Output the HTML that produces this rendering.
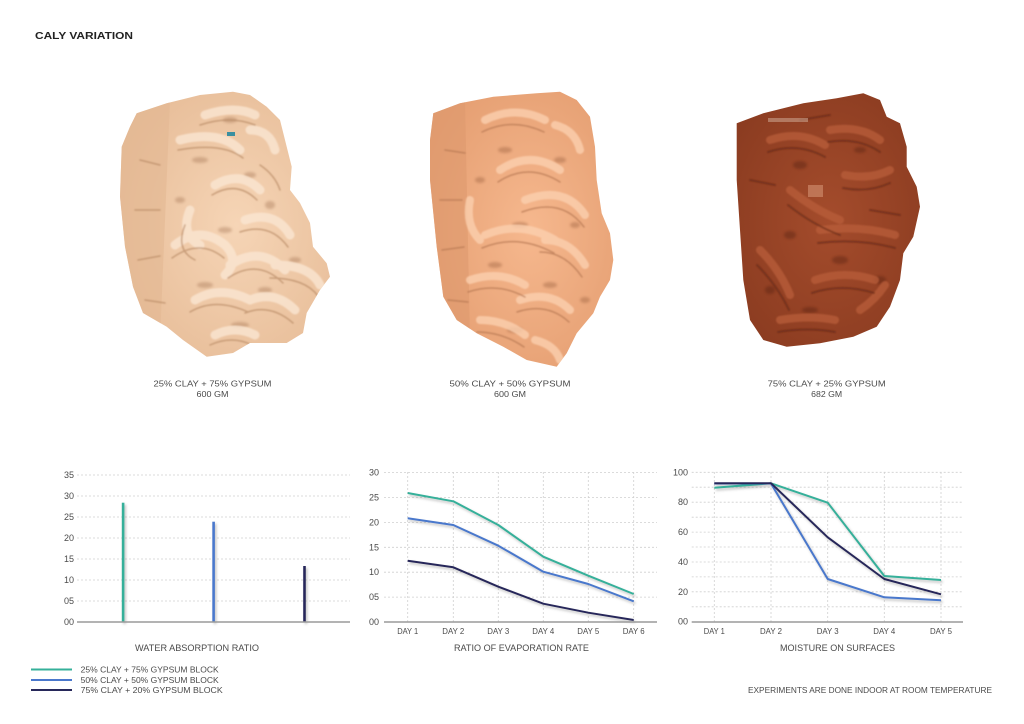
<!DOCTYPE html>
<html><head><meta charset="utf-8"><style>
html,body{margin:0;padding:0;background:#fff;}
svg{display:block;}
text{font-family:"Liberation Sans",sans-serif;fill:#4a4a4a;}
</style></head><body>
<svg width="1024" height="724" viewBox="0 0 1024 724" xmlns="http://www.w3.org/2000/svg">
<defs>
<filter id="sh" x="-20%" y="-20%" width="140%" height="140%">
<feDropShadow dx="1.5" dy="2" stdDeviation="1.2" flood-color="#777" flood-opacity="0.45"/>
</filter>
<filter id="soft"><feGaussianBlur stdDeviation="0.8"/></filter>
<filter id="soft2"><feGaussianBlur stdDeviation="1.2"/></filter>
<radialGradient id="g1" cx="0.55" cy="0.5" r="0.6">
<stop offset="0" stop-color="#f6d5b6"/><stop offset="1" stop-color="#e6bb96"/></radialGradient>
<radialGradient id="g2" cx="0.55" cy="0.5" r="0.6">
<stop offset="0" stop-color="#f6b88e"/><stop offset="1" stop-color="#e49d70"/></radialGradient>
<radialGradient id="g3" cx="0.5" cy="0.5" r="0.6">
<stop offset="0" stop-color="#a44c2c"/><stop offset="1" stop-color="#8a3b20"/></radialGradient>
<clipPath id="c1"><path d="M136.7,113.3 L166.7,103.3 L200,95 L233,91.7 L250,95 L266.7,106.7 L280,120 L286.7,146.7 L291.7,166.7 L290,190 L300,203 L310,223 L313,246.7 L326.7,263.3 L330,276.7 L320,290 L306.7,313 L303,333 L286.7,343 L250,343 L233,353 L206.7,356.7 L183,340 L166.7,326.7 L143,313 L133,286.7 L125,246.7 L120,196.7 L121.7,146.7 L130,126.7 Z"/></clipPath>
<clipPath id="c2"><path d="M433.3,113.3 L460,103.3 L493.3,96.7 L536.7,93.3 L560,91.7 L576.7,100 L590,116.7 L595,146.7 L596.7,180 L601.7,213.3 L610,233.3 L613.3,260 L610,280 L600,296.7 L593.3,313.3 L576.7,333.3 L566.7,353.3 L556.7,366.7 L526.7,360 L503.3,346.7 L476.7,333.3 L456.7,320 L443.3,296.7 L436.7,246.7 L430,180 L430,140 Z"/></clipPath>
<clipPath id="c3"><path d="M736.7,123.3 L763.3,113.3 L803.3,103.3 L836.7,98.3 L863.3,93.3 L880,100 L886.7,116.7 L900,123.3 L906.7,146.7 L906.7,166.7 L916.7,186.7 L920,206.7 L913.3,236.7 L903.3,253.3 L900,280 L890,306.7 L876.7,326.7 L853.3,336.7 L820,343.3 L786.7,346.7 L763.3,340 L750,320 L743.3,280 L740,230 L736.7,180 Z"/></clipPath>
</defs>

<!-- Title -->
<text x="35" y="39" font-size="10.5" font-weight="bold" textLength="98" lengthAdjust="spacingAndGlyphs" style="fill:#222">CALY VARIATION</text>

<!-- Block 1 -->
<g clip-path="url(#c1)">
<rect x="110" y="80" width="230" height="290" fill="url(#g1)"/>
<path d="M120,100 L170,100 L160,340 L120,340 Z" fill="#e2b792" opacity="0.6"/>
<g fill="#9c6c4c" opacity="0.35" filter="url(#soft2)">
<ellipse cx="200" cy="160" rx="8" ry="3"/><ellipse cx="250" cy="175" rx="6" ry="3"/>
<ellipse cx="225" cy="230" rx="7" ry="3"/><ellipse cx="270" cy="205" rx="5" ry="4"/>
<ellipse cx="205" cy="285" rx="8" ry="3"/><ellipse cx="265" cy="290" rx="7" ry="3"/>
<ellipse cx="240" cy="325" rx="9" ry="3"/><ellipse cx="295" cy="260" rx="6" ry="3"/>
<ellipse cx="180" cy="200" rx="5" ry="3"/><ellipse cx="230" cy="120" rx="7" ry="3"/>
</g>
<g fill="none" stroke-linecap="round" filter="url(#soft)">
<g stroke="#fbe6d2" stroke-width="9" opacity="0.8">
<path d="M180,140 q40,-10 60,10"/><path d="M215,185 q25,-15 45,5"/><path d="M245,220 q30,-10 45,15"/>
<path d="M175,245 q25,-20 50,0 q15,15 0,30"/><path d="M230,265 q30,-20 55,5"/><path d="M275,265 q35,0 45,20"/>
<path d="M195,300 q25,-15 55,0"/><path d="M250,300 q25,-10 45,10"/><path d="M215,335 q20,-10 40,0"/>
<path d="M205,115 q30,-10 50,0"/><path d="M250,130 q20,0 25,20"/><path d="M190,210 q-10,25 10,35"/>
</g>
<g stroke="#b88a66" stroke-width="1.5" opacity="0.7">
<path d="M178,150 q45,-8 65,8"/><path d="M212,195 q25,-15 45,5"/><path d="M240,232 q30,-10 48,15"/>
<path d="M172,258 q28,-20 52,0"/><path d="M228,278 q30,-20 55,5"/><path d="M270,278 q35,0 48,18"/>
<path d="M190,312 q25,-15 58,0"/><path d="M245,313 q25,-10 48,10"/><path d="M210,345 q22,-10 42,0"/>
<path d="M140,160 l20,5"/><path d="M135,210 l25,0"/><path d="M138,260 l22,-4"/><path d="M145,300 l20,3"/>
<path d="M200,125 q30,-10 55,0"/><path d="M260,165 q15,10 20,25"/><path d="M185,225 q-10,25 10,35"/>
</g>
</g>
<rect x="227" y="132" width="8" height="4" fill="#3a8fa0"/>
</g>

<!-- Block 2 -->
<g clip-path="url(#c2)">
<rect x="420" y="80" width="200" height="300" fill="url(#g2)"/>
<path d="M428,110 L465,100 L470,340 L430,330 Z" fill="#de9a6e" opacity="0.6"/>
<g fill="#8e5436" opacity="0.35" filter="url(#soft2)">
<ellipse cx="505" cy="150" rx="7" ry="3"/><ellipse cx="560" cy="160" rx="6" ry="3"/>
<ellipse cx="520" cy="225" rx="8" ry="3"/><ellipse cx="575" cy="225" rx="5" ry="3"/>
<ellipse cx="495" cy="265" rx="7" ry="3"/><ellipse cx="550" cy="285" rx="7" ry="3"/>
<ellipse cx="515" cy="330" rx="8" ry="3"/><ellipse cx="585" cy="300" rx="5" ry="3"/>
<ellipse cx="480" cy="180" rx="5" ry="3"/>
</g>
<g fill="none" stroke-linecap="round" filter="url(#soft)">
<g stroke="#fcd0b0" stroke-width="8" opacity="0.8">
<path d="M485,120 q30,-15 60,0"/><path d="M500,170 q30,-20 60,0"/><path d="M525,200 q40,-15 60,15"/>
<path d="M485,235 q35,-15 70,5"/><path d="M545,240 q25,0 40,25"/><path d="M470,280 q30,-10 55,5"/>
<path d="M520,300 q30,-10 50,10"/><path d="M480,320 q25,0 45,15"/><path d="M535,340 q20,5 25,20"/>
<path d="M555,125 q20,5 25,25"/><path d="M470,200 q-5,25 10,40"/>
</g>
<g stroke="#b57752" stroke-width="1.5" opacity="0.7">
<path d="M482,132 q30,-15 62,0"/><path d="M498,182 q30,-20 62,0"/><path d="M522,212 q40,-15 62,15"/>
<path d="M482,248 q35,-15 72,5"/><path d="M540,252 q25,0 42,25"/><path d="M468,292 q30,-10 57,5"/>
<path d="M517,312 q30,-10 52,10"/><path d="M477,332 q25,0 47,15"/><path d="M445,150 l20,3"/>
<path d="M440,200 l22,0"/><path d="M442,250 l22,-3"/><path d="M448,300 l20,2"/>
</g>
</g>
</g>

<!-- Block 3 -->
<g clip-path="url(#c3)">
<rect x="730" y="85" width="200" height="270" fill="url(#g3)"/>
<g fill="#4e1c0c" opacity="0.35" filter="url(#soft2)">
<ellipse cx="800" cy="165" rx="7" ry="4"/><ellipse cx="860" cy="150" rx="6" ry="3"/>
<ellipse cx="840" cy="260" rx="8" ry="4"/><ellipse cx="790" cy="235" rx="6" ry="4"/>
<ellipse cx="880" cy="280" rx="6" ry="4"/><ellipse cx="810" cy="310" rx="8" ry="3"/>
<ellipse cx="770" cy="290" rx="5" ry="4"/>
</g>
<g fill="none" stroke-linecap="round" filter="url(#soft)">
<g stroke="#b95e38" stroke-width="8" opacity="0.75">
<path d="M770,140 q30,-10 55,5"/><path d="M830,130 q30,-5 50,10"/><path d="M790,190 q25,20 50,30"/>
<path d="M820,230 q40,-5 75,5"/><path d="M760,250 q20,20 30,45"/><path d="M815,280 q30,-10 60,0"/>
<path d="M845,175 q25,5 45,-5"/><path d="M780,320 q30,-5 55,0"/><path d="M860,310 q15,-10 25,-25"/>
</g>
<g stroke="#5e2410" stroke-width="2" opacity="0.55">
<path d="M768,152 q30,-10 57,5"/><path d="M828,142 q30,-5 52,10"/><path d="M788,205 q25,20 52,30"/>
<path d="M818,243 q40,-5 77,5"/><path d="M757,265 q20,20 32,45"/><path d="M812,293 q30,-10 62,0"/>
<path d="M843,188 q25,5 47,-5"/><path d="M778,332 q30,-5 57,0"/><path d="M750,180 l25,5"/>
<path d="M800,120 l30,-5"/><path d="M870,210 l30,5"/>
</g>
</g>
<rect x="768" y="118" width="40" height="4" fill="#c9a08a" opacity="0.6"/>
<rect x="808" y="185" width="15" height="12" fill="#d49273" opacity="0.6"/>
</g>

<!-- Captions -->
<g font-size="8.5" text-anchor="middle">
<text x="212.5" y="386.5" textLength="118" lengthAdjust="spacingAndGlyphs">25% CLAY + 75% GYPSUM</text>
<text x="212.5" y="397" textLength="32" lengthAdjust="spacingAndGlyphs">600 GM</text>
<text x="510" y="386.5" textLength="121" lengthAdjust="spacingAndGlyphs">50% CLAY + 50% GYPSUM</text>
<text x="510" y="397" textLength="32" lengthAdjust="spacingAndGlyphs">600 GM</text>
<text x="826.7" y="386.5" textLength="118" lengthAdjust="spacingAndGlyphs">75% CLAY + 25% GYPSUM</text>
<text x="826.7" y="397" textLength="31" lengthAdjust="spacingAndGlyphs">682 GM</text>
</g>

<!-- Chart 1 -->
<g stroke="#cfcfcf" stroke-width="0.8" stroke-dasharray="2,2">
<line x1="77" y1="475" x2="350" y2="475"/><line x1="77" y1="496" x2="350" y2="496"/>
<line x1="77" y1="517" x2="350" y2="517"/><line x1="77" y1="538" x2="350" y2="538"/>
<line x1="77" y1="559" x2="350" y2="559"/><line x1="77" y1="580" x2="350" y2="580"/>
<line x1="77" y1="601" x2="350" y2="601"/>
</g>
<g font-size="9" text-anchor="end">
<text x="74" y="478">35</text><text x="74" y="499">30</text><text x="74" y="520">25</text>
<text x="74" y="541">20</text><text x="74" y="562">15</text><text x="74" y="583">10</text>
<text x="74" y="604">05</text><text x="74" y="625">00</text>
</g>
<g filter="url(#sh)">
<rect x="121.8" y="502.7" width="2.6" height="119.3" fill="#35b09a"/>
<rect x="212.3" y="521.7" width="2.6" height="100.3" fill="#4a78cc"/>
<rect x="303.2" y="566" width="2.6" height="56" fill="#27285a"/>
</g>
<line x1="77" y1="622" x2="350" y2="622" stroke="#9a9a9a" stroke-width="1.5"/>
<text x="197" y="651" font-size="9" text-anchor="middle" textLength="124" lengthAdjust="spacingAndGlyphs">WATER ABSORPTION RATIO</text>

<!-- Legend -->
<line x1="31" y1="669.5" x2="72" y2="669.5" stroke="#35b09a" stroke-width="2"/>
<line x1="31" y1="680" x2="72" y2="680" stroke="#4a78cc" stroke-width="2"/>
<line x1="31" y1="690" x2="72" y2="690" stroke="#27285a" stroke-width="2"/>
<g font-size="8.5">
<text x="80.7" y="672.5" textLength="138" lengthAdjust="spacingAndGlyphs">25% CLAY + 75% GYPSUM BLOCK</text>
<text x="80.7" y="683" textLength="138" lengthAdjust="spacingAndGlyphs">50% CLAY + 50% GYPSUM BLOCK</text>
<text x="80.7" y="693" textLength="142" lengthAdjust="spacingAndGlyphs">75%  CLAY + 20%  GYPSUM BLOCK</text>
</g>

<!-- Chart 2 -->
<g stroke="#cfcfcf" stroke-width="0.8" stroke-dasharray="2,2">
<line x1="384" y1="472.6" x2="657" y2="472.6"/><line x1="384" y1="497.5" x2="657" y2="497.5"/>
<line x1="384" y1="522.4" x2="657" y2="522.4"/><line x1="384" y1="547.3" x2="657" y2="547.3"/>
<line x1="384" y1="572.2" x2="657" y2="572.2"/><line x1="384" y1="597.1" x2="657" y2="597.1"/>
<line x1="407.7" y1="472" x2="407.7" y2="622"/><line x1="453.3" y1="472" x2="453.3" y2="622"/>
<line x1="498.3" y1="472" x2="498.3" y2="622"/><line x1="543.3" y1="472" x2="543.3" y2="622"/>
<line x1="588.3" y1="472" x2="588.3" y2="622"/><line x1="633.7" y1="472" x2="633.7" y2="622"/>
</g>
<g font-size="9" text-anchor="end">
<text x="379" y="475.6">30</text><text x="379" y="500.5">25</text><text x="379" y="525.4">20</text>
<text x="379" y="550.3">15</text><text x="379" y="575.2">10</text><text x="379" y="600.1">05</text>
<text x="379" y="625">00</text>
</g>
<g fill="none" stroke-width="2" stroke-linejoin="round" filter="url(#sh)">
<polyline stroke="#35b09a" points="407.7,493 453.3,501.3 498.3,525 543.3,556.7 588.3,575.7 633.7,594"/>
<polyline stroke="#4a78cc" points="407.7,518.3 453.3,525 498.3,545.7 543.3,571.7 588.3,584 633.7,601.3"/>
<polyline stroke="#27285a" points="407.7,560.7 453.3,567.3 498.3,586.7 543.3,603.7 588.3,612.7 633.7,620"/>
</g>
<line x1="384" y1="622" x2="657" y2="622" stroke="#9a9a9a" stroke-width="1.5"/>
<g font-size="8" text-anchor="middle">
<text x="407.7" y="634" textLength="21" lengthAdjust="spacingAndGlyphs">DAY 1</text>
<text x="453.3" y="634" textLength="22" lengthAdjust="spacingAndGlyphs">DAY 2</text>
<text x="498.3" y="634" textLength="22" lengthAdjust="spacingAndGlyphs">DAY 3</text>
<text x="543.3" y="634" textLength="22" lengthAdjust="spacingAndGlyphs">DAY 4</text>
<text x="588.3" y="634" textLength="22" lengthAdjust="spacingAndGlyphs">DAY 5</text>
<text x="633.7" y="634" textLength="22" lengthAdjust="spacingAndGlyphs">DAY 6</text>
</g>
<text x="521.5" y="651" font-size="9" text-anchor="middle" textLength="135" lengthAdjust="spacingAndGlyphs">RATIO OF EVAPORATION RATE</text>

<!-- Chart 3 -->
<g stroke="#cfcfcf" stroke-width="0.8" stroke-dasharray="2,2">
<line x1="691.7" y1="472.3" x2="963" y2="472.3"/><line x1="691.7" y1="487.2" x2="963" y2="487.2"/>
<line x1="691.7" y1="502.2" x2="963" y2="502.2"/><line x1="691.7" y1="517.2" x2="963" y2="517.2"/>
<line x1="691.7" y1="532.1" x2="963" y2="532.1"/><line x1="691.7" y1="547.0" x2="963" y2="547.0"/>
<line x1="691.7" y1="562.0" x2="963" y2="562.0"/><line x1="691.7" y1="576.9" x2="963" y2="576.9"/>
<line x1="691.7" y1="591.8" x2="963" y2="591.8"/><line x1="691.7" y1="606.8" x2="963" y2="606.8"/>
<line x1="714.3" y1="472" x2="714.3" y2="622"/><line x1="771" y1="472" x2="771" y2="622"/>
<line x1="827.7" y1="472" x2="827.7" y2="622"/><line x1="884.3" y1="472" x2="884.3" y2="622"/>
<line x1="941" y1="472" x2="941" y2="622"/>
</g>
<g font-size="9" text-anchor="end">
<text x="688" y="475.3">100</text><text x="688" y="505.2">80</text><text x="688" y="535.1">60</text>
<text x="688" y="565">40</text><text x="688" y="594.8">20</text><text x="688" y="624.7">00</text>
</g>
<g fill="none" stroke-width="2" stroke-linejoin="round" filter="url(#sh)">
<polyline stroke="#35b09a" points="714.3,487.7 771,483.3 827.7,502.7 884.3,576 941,580"/>
<polyline stroke="#4a78cc" points="714.3,483.5 771,483.5 827.7,579 884.3,597.3 941,600.3"/>
<polyline stroke="#27285a" points="714.3,483.2 771,483.2 827.7,537.3 884.3,579 941,594.3"/>
</g>
<line x1="691.7" y1="622" x2="963" y2="622" stroke="#9a9a9a" stroke-width="1.5"/>
<g font-size="8" text-anchor="middle">
<text x="714.3" y="634" textLength="21" lengthAdjust="spacingAndGlyphs">DAY 1</text>
<text x="771" y="634" textLength="22" lengthAdjust="spacingAndGlyphs">DAY 2</text>
<text x="827.7" y="634" textLength="22" lengthAdjust="spacingAndGlyphs">DAY 3</text>
<text x="884.3" y="634" textLength="22" lengthAdjust="spacingAndGlyphs">DAY 4</text>
<text x="941" y="634" textLength="22" lengthAdjust="spacingAndGlyphs">DAY 5</text>
</g>
<text x="837.5" y="651" font-size="9" text-anchor="middle" textLength="115" lengthAdjust="spacingAndGlyphs">MOISTURE ON SURFACES</text>

<text x="748" y="693" font-size="8.5" textLength="244" lengthAdjust="spacingAndGlyphs">EXPERIMENTS ARE DONE INDOOR AT ROOM TEMPERATURE</text>
</svg>
</body></html>
